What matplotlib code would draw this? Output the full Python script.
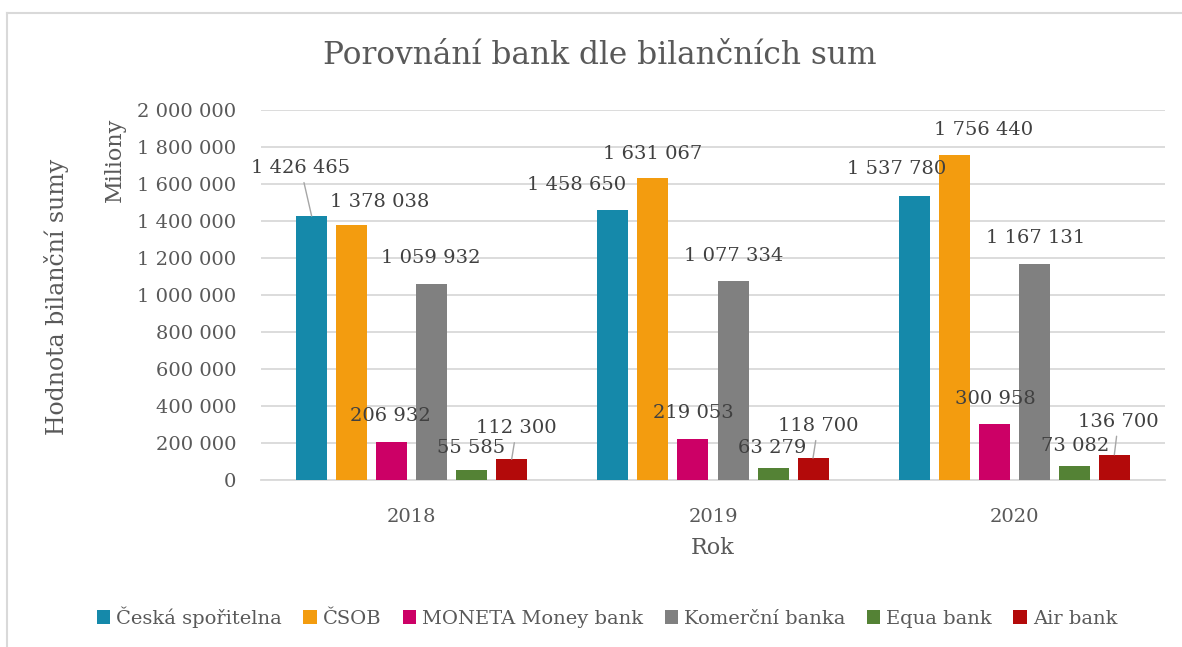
import numpy as np
import matplotlib.pyplot as plt
from matplotlib.lines import Line2D

plt.rcParams['font.family'] = ['DejaVu Serif']

years = ['2018', '2019', '2020']
banks = ['Česká spořitelna', 'ČSOB', 'MONETA Money bank', 'Komerční banka', 'Equa bank', 'Air bank']
cs = [1426465, 1458650, 1537780]
csob = [1378038, 1631067, 1756440]
moneta = [206932, 219053, 300958]
kb = [1059932, 1077334, 1167131]
equa = [55585, 63279, 73082]
air = [112300, 118700, 136700]
series = [cs, csob, moneta, kb, equa, air]
colors = ['#1589AA', '#F39C0F', '#CC0066', '#808080', '#548235', '#B30A0A']

# label offsets from bar top (pixels), and whether Excel drew a leader line
offsets = [
    [(-11, 48), (-36, 25), (-18, 27)],
    [(28, 23), (0, 24), (29, 25)],
    [(-1, 26), (0, 26), (1, 25)],
    [(-1, 26), (1, 25), (1, 26)],
    [(-1, 22), (-1, 20), (1, 20)],
    [(5, 31), (5, 32), (4, 33)],
]
leaders = [[True, False, False], [False] * 3, [False] * 3, [False] * 3, [False] * 3, [True] * 3]

txt = '#595959'
grid = '#d9d9d9'

def fmt(v):
    return f'{v:,}'.replace(',', ' ')

fig = plt.figure(figsize=(11.82, 6.47), dpi=100)
ax = fig.add_axes([261 / 1182, 1 - 480 / 647, 904 / 1182, 370 / 647])

x = np.arange(len(years))
step = 40 / 301.3
width = 31 / 301.3
for i, (vals, c) in enumerate(zip(series, colors)):
    pos = x + (i - 2.5) * step
    ax.bar(pos, vals, width, color=c, label=banks[i], zorder=3)
    for j, v in enumerate(vals):
        dx, dy = offsets[i][j]
        ap = dict(arrowstyle='-', color='#a6a6a6', lw=1, shrinkA=2, shrinkB=0) if leaders[i][j] else None
        ax.annotate(fmt(v), xy=(pos[j], v), xytext=(dx, dy), textcoords='offset pixels',
                    ha='center', va='center', fontsize=14, color='#404040', arrowprops=ap, zorder=4)

ax.set_xlim(-0.5, 2.5)
ax.set_ylim(0, 2000000)
ax.set_yticks(np.arange(0, 2000001, 200000))
ax.set_yticklabels([fmt(t) for t in range(0, 2000001, 200000)])
ax.set_xticks(x)
ax.set_xticklabels(years)
ax.tick_params(axis='both', length=0, labelsize=14, labelcolor=txt)
ax.tick_params(axis='y', pad=18)
ax.tick_params(axis='x', pad=20)
ax.grid(axis='y', color=grid, lw=1.3, zorder=0)
for s in ['top', 'right', 'left']:
    ax.spines[s].set_visible(False)
ax.spines['bottom'].set_color(grid)
ax.spines['bottom'].set_linewidth(1.3)

ax.set_xlabel('Rok', fontsize=16, color=txt, labelpad=8)
fig.text(57 / 1182, 1 - 297 / 647, 'Hodnota bilanční sumy', rotation=90, ha='center', va='center',
         fontsize=17, color=txt)
fig.text(115 / 1182, 1 - 160 / 647, 'Miliony', rotation=90, ha='center', va='center',
         fontsize=16, color=txt)
fig.text(600 / 1182, 1 - 55 / 647, 'Porovnání bank dle bilančních sum', ha='center', va='center',
         fontsize=22.5, color=txt)

leg = fig.legend(loc='center', bbox_to_anchor=(607 / 1182, 1 - 617 / 647), ncol=6, frameon=False,
                 fontsize=14, handlelength=0.7, handleheight=0.7, handletextpad=0.3, columnspacing=1.1)
for t in leg.get_texts():
    t.set_color(txt)

# chart border (top and left edges visible)
fig.add_artist(Line2D([7 / 1182, 1], [1 - 13 / 647, 1 - 13 / 647], color=grid, lw=1.5))
fig.add_artist(Line2D([7 / 1182, 7 / 1182], [0, 1 - 13 / 647], color=grid, lw=1.5))

fig.savefig('out.png', dpi=100)
